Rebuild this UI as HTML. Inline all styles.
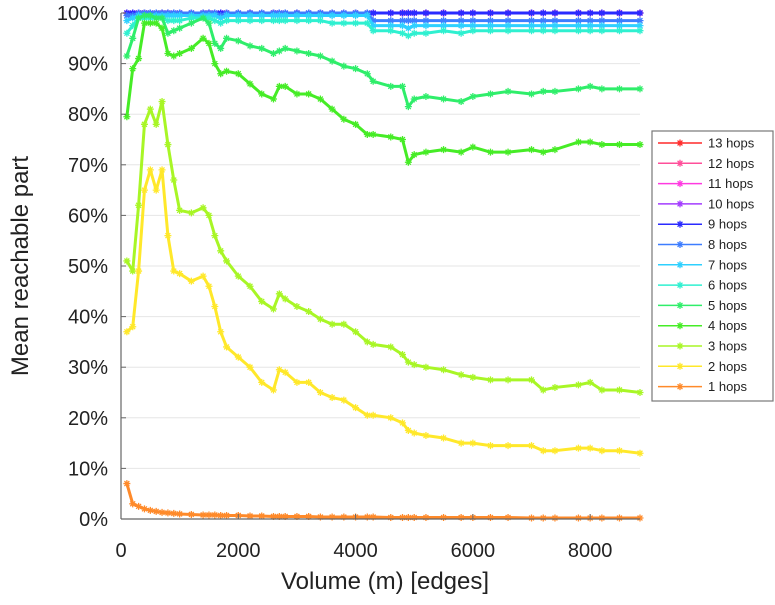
<!DOCTYPE html>
<html><head><meta charset="utf-8"><style>
body{margin:0;background:#fff;}
svg text{font-family:"Liberation Sans",sans-serif;fill:#222;}
</style></head><body>
<svg id="chart" width="775" height="600" viewBox="0 0 775 600" xmlns="http://www.w3.org/2000/svg">
<g id="grid"></g>
<g id="series"></g>
<g id="axes"></g>
<text transform="translate(28,266) rotate(-90)" text-anchor="middle" font-size="24">Mean reachable part</text>
<text x="385" y="589" text-anchor="middle" font-size="24">Volume (m) [edges]</text>
<g id="legend"></g>
</svg>
<script>
const xs = [100,200,300,400,500,600,700,800,900,1000,1200,1400,1500,1600,1700,1800,2000,2200,2400,2600,2700,2800,3000,3200,3400,3600,3800,4000,4200,4300,4600,4800,4900,5000,5200,5500,5800,6000,6300,6600,7000,7200,7400,7800,8000,8200,8500,8850];
const hops1 = [7,3,2.5,2,1.7,1.5,1.3,1.2,1.1,1,0.9,0.8,0.8,0.8,0.7,0.7,0.7,0.6,0.6,0.5,0.5,0.5,0.5,0.5,0.4,0.4,0.4,0.4,0.4,0.4,0.3,0.3,0.3,0.3,0.3,0.3,0.3,0.3,0.3,0.3,0.2,0.2,0.2,0.2,0.2,0.2,0.2,0.2];
const hops2 = [37,38,49,65,69,65,69,56,49,48.5,47,48,46,42,37,34,32,30,27,25.5,29.5,29,27,27,25,24,23.5,22,20.5,20.5,20,19,17.5,17,16.5,16,15,15,14.5,14.5,14.5,13.5,13.5,14,14,13.5,13.5,13];
const hops3 = [51,49,62,78,81,78,82.5,74,67,61,60.5,61.5,60,56,53,51,48,46,43,41.5,44.5,43.5,42,41,39.5,38.5,38.5,37,35,34.5,34,32.5,31,30.5,30,29.5,28.5,28,27.5,27.5,27.5,25.5,26,26.5,27,25.5,25.5,25];
const hops4 = [79.5,89,91,98,98,98,97,92,91.5,92,93,95,94,90,88,88.5,88,86,84,83,85.5,85.5,84,84,83,81,79,78,76,76,75.5,75,70.5,72,72.5,73,72.5,73.5,72.5,72.5,73,72.5,73,74.5,74.5,74,74,74];
const hops5 = [91.5,95,99,99.5,99.5,99,99,96,96.5,97,98,99,98,94,93,95,94.5,93.5,93,92,92.5,93,92.5,92,91.5,90.5,89.5,89,88,86.5,85.5,85.5,81.5,83,83.5,83,82.5,83.5,84,84.5,84,84.5,84.5,85,85.5,85,85,85];
const hops6 = [96,97.5,99,99,99,99,99,98.5,98.5,98.5,99,99,99,98.5,98,98.5,98.5,98.5,98.5,98.5,98.5,98.5,98.5,98.5,98.5,98,98,98,98,96.5,96.5,96,95.5,96,96,96.5,96,96.5,96.5,96.5,96.5,96.5,96.5,96.5,96.5,96.5,96.5,96.5];
const hops7 = [98.5,99,99.5,99.5,99.5,99.5,99.5,99.5,99.5,99.5,99.5,99.5,99.5,99.5,99,99.5,99.5,99.5,99.5,99.5,99.5,99.5,99.5,99.5,99.5,99.5,99.5,99.5,99.5,97.5,97.5,97.5,97,97.5,97.5,97.5,97.5,97.5,97.5,97.5,97.5,97.5,97.5,97.5,97.5,97.5,97.5,97.5];
const hops8 = [99.5,99.5,100,100,100,100,100,100,100,100,100,100,100,100,99.5,100,100,100,100,100,100,100,100,100,100,100,100,100,100,98.5,98.5,98.5,98.5,98.5,98.5,98.5,98.5,98.5,98.5,98.5,98.5,98.5,98.5,98.5,98.5,98.5,98.5,98.5];
const hops9 = xs.map(()=>100);
const hops10 = xs.map(()=>100);
const hops11 = xs.map(()=>100);
const hops12 = xs.map(()=>100);
const hops13 = xs.map(()=>100);
const seriesLabels = ["13 hops","12 hops","11 hops","10 hops","9 hops","8 hops","7 hops","6 hops","5 hops","4 hops","3 hops","2 hops","1 hops"];
const seriesValues = [hops13,hops12,hops11,hops10,hops9,hops8,hops7,hops6,hops5,hops4,hops3,hops2,hops1];
const seriesColors = ["#ff2a2a","#ff4f9a","#ff3ae0","#a33cff","#2a2aff","#3d7dff","#2ed0ff","#2ff0d0","#2fee6a","#46ec26","#a8f626","#ffe82a","#ff8a2a"];
const xTicks = [0,2000,4000,6000,8000];
const yTicks = [0,10,20,30,40,50,60,70,80,90,100];

const X0=121, X1=640, XMIN=0, XMAX=8850;
const Y0=519, Y1=13;
const xScale = v => X0 + (v-XMIN)/(XMAX-XMIN)*(X1-X0);
const yScale = v => Y0 - v/100*(Y0-Y1);
const NS="http://www.w3.org/2000/svg";
function mk(tag, attrs, parent){const e=document.createElementNS(NS,tag);for(const k in attrs)e.setAttribute(k,attrs[k]);parent.appendChild(e);return e;}

const grid=document.getElementById('grid'), axes=document.getElementById('axes');
yTicks.forEach(t=>{
  const y=yScale(t);
  const gl=mk('line',{x1:X0,x2:X1,y1:y,y2:y,stroke:'#e6e6e6','stroke-width':1},grid);
  
  
  const tk=mk('line',{x1:X0,x2:X0+5,y1:y,y2:y,stroke:'#666','stroke-width':1},axes);
  
  
  const tl=mk('text',{x:108,y:y+7,'text-anchor':'end','font-size':20},axes);
  tl.textContent=t+'%';
  
  
});
xTicks.forEach(t=>{
  const x=xScale(t);
  const tk=mk('line',{x1:x,x2:x,y1:Y0,y2:Y0-5,stroke:'#666','stroke-width':1},axes);
  
  
  const tl=mk('text',{x:x,y:557,'text-anchor':'middle','font-size':20},axes);
  tl.textContent=t;
  
  
});
const ax1=mk('line',{x1:X0,x2:X0,y1:Y1,y2:Y0,stroke:'#666','stroke-width':1.2},axes);


const ax2=mk('line',{x1:X0,x2:X1,y1:Y0,y2:Y0,stroke:'#666','stroke-width':1.2},axes);



function star(cx,cy,r,col,parent){
  const d=`M${cx-r},${cy}L${cx+r},${cy}M${cx},${cy-r}L${cx},${cy+r}M${cx-r*0.7},${cy-r*0.7}L${cx+r*0.7},${cy+r*0.7}M${cx-r*0.7},${cy+r*0.7}L${cx+r*0.7},${cy-r*0.7}`;
  return mk('path',{d:d,stroke:col,'stroke-width':1.3,fill:'none'},parent);
}
const sg=document.getElementById('series');
for(let s=0;s<seriesValues.length;s++){
  const g=mk('g',{},sg);
  
  
  const vals=seriesValues[s], col=seriesColors[s];
  const pts=xs.map((x,i)=>xScale(x)+','+yScale(vals[i])).join(' ');
  const pl=mk('polyline',{points:pts,fill:'none',stroke:col,'stroke-width':3,'stroke-linejoin':'round'},g);
  
  
  xs.forEach((x,i)=>{
    const m=star(xScale(x),yScale(vals[i]),3.5,col,g);
    
    
  });
}

const lg=document.getElementById('legend');
const box=mk('rect',{x:652,y:131,width:121,height:270,fill:'#fff',stroke:'#777','stroke-width':1.2},lg);


seriesLabels.forEach((lab,i)=>{
  const y=143+i*20.3;
  const g=mk('g',{},lg);
  
  
  mk('line',{x1:658,x2:702,y1:y,y2:y,stroke:seriesColors[i],'stroke-width':1.5},g);
  star(680,y,3.5,seriesColors[i],g);
  const t=mk('text',{x:708,y:y+4.5,'font-size':13},g);
  t.textContent=lab;
});
</script>
</body></html>
